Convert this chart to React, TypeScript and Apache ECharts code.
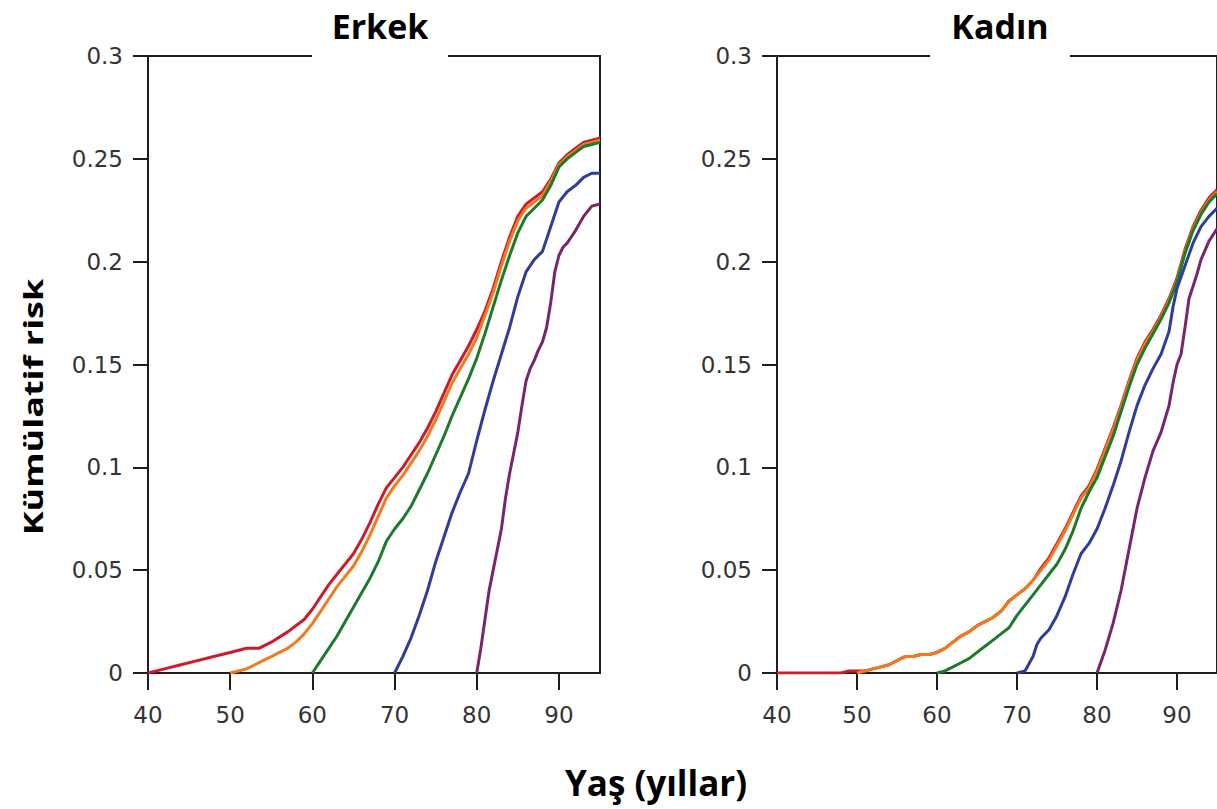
import { useEffect, useRef } from 'react';
import * as echarts from 'echarts';

const panelTitles = ['Erkek', 'Kadın'];
const xAxisTitle = 'Yaş (yıllar)';
const yAxisTitle = 'Kümülatif risk';
const xTicks = [40, 50, 60, 70, 80, 90];
const seriesNames = ['40 yaş', '50 yaş', '60 yaş', '70 yaş', '80 yaş'];
const seriesColors = ['#cc1b2b', '#f07a1c', '#1d7a2a', '#2d3d9e', '#7a2470'];

// Erkek (men)
const erkek40 = [[40,0],[42,0.002],[44,0.004],[46,0.006],[48,0.008],[50,0.010],[52,0.012],[53.5,0.012],[55,0.015],[57,0.020],[59,0.026],[60,0.031],[61,0.037],[62,0.043],[63,0.048],[64,0.053],[65,0.058],[66,0.065],[67,0.073],[68,0.082],[69,0.090],[70,0.095],[71,0.100],[72,0.106],[73,0.112],[74,0.119],[75,0.127],[76,0.136],[77,0.145],[78,0.152],[79,0.159],[80,0.167],[81,0.176],[82,0.187],[83,0.200],[84,0.212],[85,0.222],[86,0.228],[87,0.231],[88,0.234],[89,0.240],[90,0.248],[91,0.252],[92,0.255],[93,0.258],[94,0.259],[95,0.260]];
const erkek50 = [[50,0],[51,0.001],[52,0.002],[53,0.004],[54,0.006],[55,0.008],[56,0.010],[57,0.012],[58,0.015],[59,0.019],[60,0.024],[61,0.030],[62,0.036],[63,0.042],[64,0.047],[65,0.052],[66,0.059],[67,0.067],[68,0.076],[69,0.085],[70,0.091],[71,0.096],[72,0.102],[73,0.108],[74,0.115],[75,0.123],[76,0.132],[77,0.141],[78,0.148],[79,0.155],[80,0.163],[81,0.174],[82,0.185],[83,0.198],[84,0.210],[85,0.220],[86,0.226],[87,0.229],[88,0.232],[89,0.239],[90,0.247],[91,0.251],[92,0.254],[93,0.257],[94,0.258],[95,0.259]];
const erkek60 = [[60,0],[61,0.006],[62,0.012],[63,0.018],[64,0.025],[65,0.032],[66,0.039],[67,0.046],[68,0.054],[69,0.064],[70,0.070],[71,0.075],[72,0.081],[73,0.089],[74,0.097],[75,0.106],[76,0.115],[77,0.125],[78,0.134],[79,0.143],[80,0.153],[81,0.165],[82,0.178],[83,0.191],[84,0.203],[85,0.214],[86,0.222],[87,0.226],[88,0.230],[89,0.237],[90,0.246],[91,0.250],[92,0.253],[93,0.256],[94,0.257],[95,0.258]];
const erkek70 = [[70,0],[71,0.008],[72,0.017],[73,0.028],[74,0.040],[75,0.054],[76,0.066],[77,0.078],[78,0.088],[79,0.097],[80,0.113],[81,0.128],[82,0.142],[83,0.155],[84,0.168],[85,0.183],[86,0.195],[87,0.201],[88,0.205],[89,0.217],[90,0.229],[91,0.234],[92,0.237],[93,0.241],[94,0.243],[95,0.243]];
const erkek80 = [[80,0],[80.5,0.012],[81,0.026],[81.5,0.040],[82,0.050],[82.5,0.060],[83,0.070],[83.5,0.085],[84,0.097],[84.5,0.107],[85,0.117],[85.5,0.130],[86,0.142],[86.5,0.148],[87,0.152],[87.5,0.157],[88,0.161],[88.5,0.168],[89,0.180],[89.5,0.195],[90,0.203],[90.5,0.207],[91,0.209],[91.5,0.212],[92,0.215],[93,0.222],[94,0.227],[95,0.228]];

// Kadın (women)
const kadin40 = [[40,0],[42,0],[44,0],[46,0],[48,0],[49,0.001],[50,0.001],[51,0.001],[52,0.002],[53,0.003],[54,0.004],[55,0.006],[56,0.008],[57,0.008],[58,0.009],[59,0.009],[60,0.010],[61,0.012],[62,0.015],[63,0.018],[64,0.020],[65,0.023],[66,0.025],[67,0.027],[68,0.030],[69,0.035],[70,0.038],[71,0.041],[72,0.045],[73,0.051],[74,0.056],[75,0.063],[76,0.070],[77,0.078],[78,0.086],[79,0.091],[80,0.099],[81,0.109],[82,0.119],[83,0.130],[84,0.142],[85,0.153],[86,0.161],[87,0.167],[88,0.174],[89,0.182],[90,0.192],[91,0.206],[92,0.217],[93,0.225],[94,0.231],[95,0.235]];
const kadin50 = [[50,0],[51,0.001],[52,0.002],[53,0.003],[54,0.004],[55,0.006],[56,0.008],[57,0.008],[58,0.009],[59,0.009],[60,0.010],[61,0.012],[62,0.015],[63,0.018],[64,0.020],[65,0.023],[66,0.025],[67,0.027],[68,0.030],[69,0.035],[70,0.038],[71,0.041],[72,0.045],[73,0.050],[74,0.055],[75,0.062],[76,0.069],[77,0.077],[78,0.085],[79,0.090],[80,0.098],[81,0.108],[82,0.118],[83,0.129],[84,0.141],[85,0.152],[86,0.160],[87,0.166],[88,0.173],[89,0.181],[90,0.191],[91,0.205],[92,0.216],[93,0.224],[94,0.230],[95,0.234]];
const kadin60 = [[60,0],[61,0.001],[62,0.003],[63,0.005],[64,0.007],[65,0.010],[66,0.013],[67,0.016],[68,0.019],[69,0.022],[70,0.028],[71,0.033],[72,0.038],[73,0.043],[74,0.048],[75,0.053],[76,0.060],[77,0.069],[78,0.080],[79,0.088],[80,0.095],[81,0.105],[82,0.115],[83,0.127],[84,0.139],[85,0.150],[86,0.158],[87,0.165],[88,0.172],[89,0.180],[90,0.190],[91,0.204],[92,0.215],[93,0.223],[94,0.229],[95,0.233]];
const kadin70 = [[70,0],[71,0.001],[72,0.008],[72.5,0.014],[73,0.017],[74,0.021],[75,0.028],[76,0.037],[77,0.048],[78,0.058],[79,0.063],[80,0.070],[81,0.080],[82,0.091],[83,0.103],[84,0.117],[85,0.130],[86,0.140],[87,0.148],[88,0.155],[89,0.166],[89.5,0.178],[90,0.187],[91,0.198],[92,0.209],[93,0.217],[94,0.222],[95,0.226]];
const kadin80 = [[80,0],[81,0.011],[82,0.024],[83,0.040],[84,0.060],[85,0.080],[86,0.095],[87,0.108],[88,0.117],[89,0.130],[89.5,0.141],[90,0.150],[90.5,0.155],[91,0.168],[91.5,0.182],[92,0.188],[92.5,0.194],[93,0.201],[94,0.210],[95,0.216]];

const panels = [
  [erkek40, erkek50, erkek60, erkek70, erkek80],
  [kadin40, kadin50, kadin60, kadin70, kadin80],
];

const AXIS_COLOR = '#1e1e1e';
const LABEL_FONT = { fontFamily: 'DejaVu Sans', fontSize: 23, color: '#333' };

function makeX(gridIndex: number) {
  return {
    type: 'value',
    gridIndex,
    min: 40,
    max: 95,
    interval: 10,
    axisLine: { show: true, onZero: false, lineStyle: { color: AXIS_COLOR, width: 2 } },
    axisTick: { show: true, length: 17, customValues: xTicks, lineStyle: { color: AXIS_COLOR, width: 2 } },
    axisLabel: { ...LABEL_FONT, margin: 30, customValues: xTicks },
    splitLine: { show: false },
  };
}

function makeY(gridIndex: number) {
  return {
    type: 'value',
    gridIndex,
    min: 0,
    max: 0.3,
    interval: 0.05,
    axisLine: { show: true, lineStyle: { color: AXIS_COLOR, width: 2 } },
    axisTick: { show: true, length: 15, lineStyle: { color: AXIS_COLOR, width: 2 } },
    axisLabel: { ...LABEL_FONT, margin: 25, formatter: (v: number) => String(+v.toFixed(2)) },
    splitLine: { show: false },
  };
}

export default function App() {
  const ref = useRef<HTMLDivElement>(null);
  useEffect(() => {
    const chart = echarts.init(ref.current!, null, { renderer: 'svg' });
    const series: any[] = [];
    panels.forEach((curves, p) => {
      curves.forEach((data, i) => {
        series.push({
          type: 'line',
          name: seriesNames[i],
          xAxisIndex: p,
          yAxisIndex: p,
          data,
          showSymbol: false,
          symbol: 'none',
          lineStyle: { color: seriesColors[i], width: 3 },
          itemStyle: { color: seriesColors[i] },
          z: 3 + i,
        });
      });
    });
    const titleFont = { fontFamily: 'Open Sans', fontWeight: 'bold', fontSize: 34, fill: '#000' };
    chart.setOption({
      animation: false,
      backgroundColor: '#fff',
      grid: [
        { left: 148, top: 56, width: 452, height: 617, show: true, borderColor: AXIS_COLOR, borderWidth: 2, backgroundColor: 'transparent' },
        { left: 777, top: 56, width: 450, height: 617, show: true, borderColor: AXIS_COLOR, borderWidth: 2, backgroundColor: 'transparent' },
      ],
      xAxis: [makeX(0), makeX(1)],
      yAxis: [makeY(0), makeY(1)],
      series,
      graphic: [
        { type: 'rect', shape: { x: 312, y: 48, width: 136, height: 12 }, style: { fill: '#fff' }, z: 100 },
        { type: 'rect', shape: { x: 930, y: 48, width: 140, height: 12 }, style: { fill: '#fff' }, z: 100 },
        { type: 'text', x: 380, y: 26, z: 101, style: { ...titleFont, text: panelTitles[0], textAlign: 'center', textVerticalAlign: 'middle' } },
        { type: 'text', x: 1000, y: 26, z: 101, style: { ...titleFont, text: panelTitles[1], textAlign: 'center', textVerticalAlign: 'middle' } },
        { type: 'text', x: 656, y: 782, z: 101, style: { ...titleFont, fontSize: 35, text: xAxisTitle, textAlign: 'center', textVerticalAlign: 'middle' } },
        { type: 'text', x: 33, y: 407, rotation: Math.PI / 2, scaleX: 1.5, scaleY: 1.1, z: 101, style: { ...titleFont, fontSize: 24, text: yAxisTitle, textAlign: 'center', textVerticalAlign: 'middle' } },
      ],
    });
    return () => chart.dispose();
  }, []);
  return (
    <div
      ref={ref}
      style={{ position: 'absolute', left: 0, top: 0, width: 1217, height: 809, overflow: 'hidden', background: '#fff' }}
    />
  );
}
